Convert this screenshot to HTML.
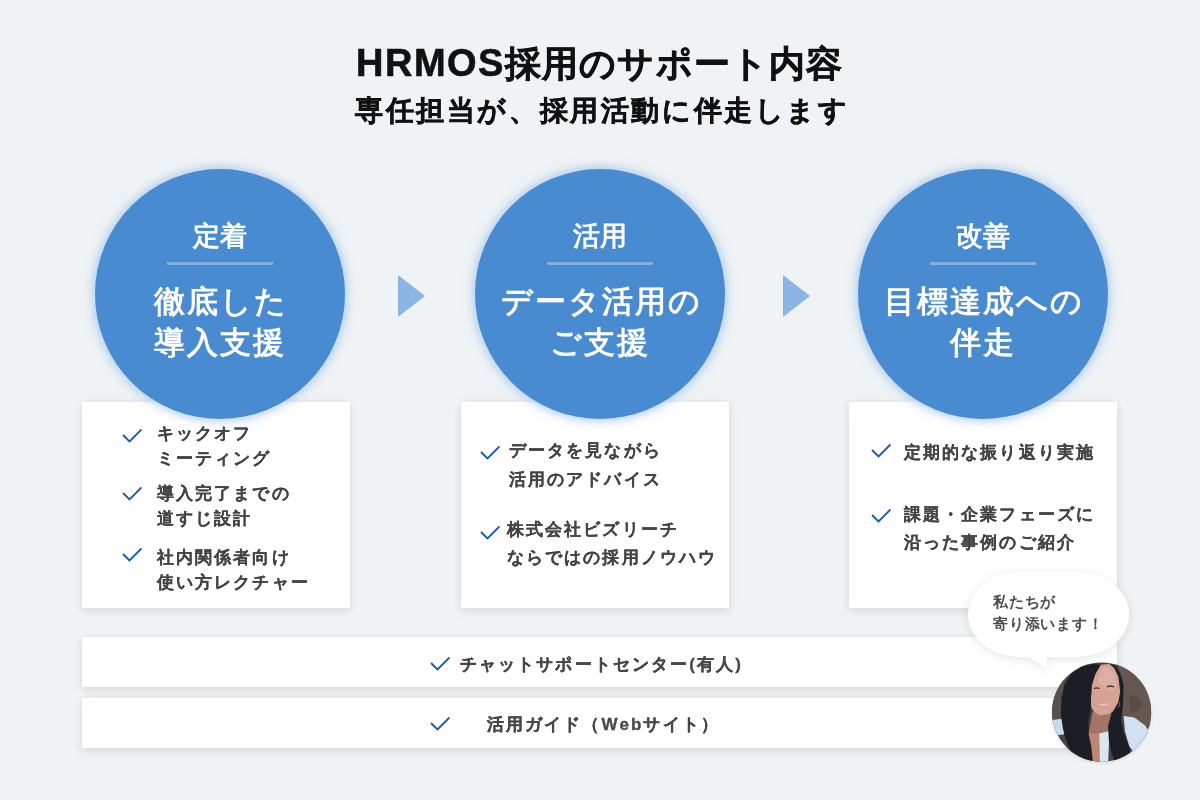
<!DOCTYPE html>
<html lang="ja">
<head>
<meta charset="utf-8">
<style>
*{margin:0;padding:0;box-sizing:border-box}
html,body{width:1200px;height:800px;overflow:hidden}
body{background:#F0F3F5;font-family:"Liberation Sans",sans-serif;position:relative;color:#4d4d4d}
.abs{position:absolute}
.t{position:absolute;white-space:nowrap;line-height:1;will-change:transform}
.title{left:356px;font-weight:bold;color:#111;font-size:36px;top:44px;-webkit-text-stroke:0.6px #111}
.title .en{font-size:38px;letter-spacing:1.5px}
.title .ja{letter-spacing:1.15px}
.sub{left:355px;font-weight:bold;color:#111;font-size:28px;top:97px;letter-spacing:2.6px;-webkit-text-stroke:0.5px #111}
.card{position:absolute;top:402px;width:268px;height:206px;background:#fff;box-shadow:0 1px 7px 1px rgba(0,0,0,0.06),0 5px 12px rgba(0,0,0,0.05)}
.bar{position:absolute;left:82px;width:1035px;height:50px;background:#fff;box-shadow:0 1px 7px 1px rgba(0,0,0,0.06),0 5px 12px rgba(0,0,0,0.05)}
.circle{position:absolute;top:169px;width:250px;height:250px;border-radius:50%;background:#488BD1;box-shadow:0 0 6px 3px rgba(150,190,235,0.45),0 0 12px 4px rgba(170,200,235,0.3);color:#fff;z-index:5}
.circle .lab{will-change:transform;position:absolute;left:0;width:250px;text-align:center;font-size:27px;top:54px;line-height:1;font-weight:bold;letter-spacing:0.5px;text-indent:0.5px}
.circle .div{position:absolute;left:72px;width:106px;height:3px;top:93px;background:rgba(255,255,255,0.3)}
.circle .main{will-change:transform;position:absolute;left:0;width:250px;text-align:center;font-size:31px;top:112px;line-height:41px;letter-spacing:2px;text-indent:2px;font-weight:bold}
.tri{position:absolute;top:274.5px;width:0;height:0;border-top:21.5px solid transparent;border-bottom:21.5px solid transparent;border-left:27px solid #8CB5E5}
.item{will-change:transform;position:absolute;font-size:17px;letter-spacing:2.1px;line-height:25px;color:#444;white-space:nowrap;font-weight:bold;-webkit-text-stroke:0.1px #444}
.chk{position:absolute;width:20px;height:15px}
.btxt{will-change:transform;position:absolute;font-size:17px;letter-spacing:2.1px;line-height:1;color:#484848;white-space:nowrap;font-weight:bold;-webkit-text-stroke:0.3px #484848}
</style>
</head>
<body>
<div class="t title"><span class="en">HRMOS</span><span class="ja">採用のサポート内容</span></div>
<div class="t sub">専任担当が、採用活動に伴走します</div>

<div class="card" style="left:82px"></div>
<div class="card" style="left:461px"></div>
<div class="card" style="left:849px"></div>

<div class="circle" style="left:95px"><div class="lab">定着</div><div class="div"></div><div class="main">徹底した<br>導入支援</div></div>
<div class="circle" style="left:475px"><div class="lab">活用</div><div class="div"></div><div class="main">データ活用の<br>ご支援</div></div>
<div class="circle" style="left:858px"><div class="lab">改善</div><div class="div"></div><div class="main">目標達成への<br>伴走</div></div>

<div class="tri" style="left:398px"></div>
<div class="tri" style="left:783px"></div>

<!-- card 1 items -->
<svg class="chk" style="left:122px;top:428px" viewBox="0 0 20 15"><polyline points="1,7 7.5,13.5 19.5,1.5" fill="none" stroke="#175AAE" stroke-width="1.8"/></svg>
<div class="item" style="left:157px;top:421px">キックオフ<br>ミーティング</div>
<svg class="chk" style="left:122px;top:486px" viewBox="0 0 20 15"><polyline points="1,7 7.5,13.5 19.5,1.5" fill="none" stroke="#175AAE" stroke-width="1.8"/></svg>
<div class="item" style="left:157px;top:481px">導入完了までの<br>道すじ設計</div>
<svg class="chk" style="left:122px;top:547px" viewBox="0 0 20 15"><polyline points="1,7 7.5,13.5 19.5,1.5" fill="none" stroke="#175AAE" stroke-width="1.8"/></svg>
<div class="item" style="left:157px;top:545px">社内関係者向け<br>使い方レクチャー</div>

<!-- card 2 items -->
<svg class="chk" style="left:480px;top:445px" viewBox="0 0 20 15"><polyline points="1,7 7.5,13.5 19.5,1.5" fill="none" stroke="#175AAE" stroke-width="1.8"/></svg>
<div class="item" style="left:509px;top:436px;line-height:29px">データを見ながら<br>活用のアドバイス</div>
<svg class="chk" style="left:480px;top:525px" viewBox="0 0 20 15"><polyline points="1,7 7.5,13.5 19.5,1.5" fill="none" stroke="#175AAE" stroke-width="1.8"/></svg>
<div class="item" style="left:507px;top:516px;line-height:28px">株式会社ビズリーチ<br>ならではの採用ノウハウ</div>

<!-- card 3 items -->
<svg class="chk" style="left:871px;top:443px" viewBox="0 0 20 15"><polyline points="1,7 7.5,13.5 19.5,1.5" fill="none" stroke="#175AAE" stroke-width="1.8"/></svg>
<div class="item" style="left:904px;top:440px">定期的な振り返り実施</div>
<svg class="chk" style="left:871px;top:508px" viewBox="0 0 20 15"><polyline points="1,7 7.5,13.5 19.5,1.5" fill="none" stroke="#175AAE" stroke-width="1.8"/></svg>
<div class="item" style="left:904px;top:501px;line-height:28px">課題・企業フェーズに<br>沿った事例のご紹介</div>

<div class="bar" style="top:637px"></div>
<div class="bar" style="top:698px"></div>
<svg class="chk" style="left:430px;top:656px" viewBox="0 0 20 15"><polyline points="1,7 7.5,13.5 19.5,1.5" fill="none" stroke="#175AAE" stroke-width="1.8"/></svg>
<div class="btxt" style="left:460px;top:656px">チャットサポートセンター(有人)</div>
<svg class="chk" style="left:430px;top:716px" viewBox="0 0 20 15"><polyline points="1,7 7.5,13.5 19.5,1.5" fill="none" stroke="#175AAE" stroke-width="1.8"/></svg>
<div class="btxt" style="left:487px;top:716px">活用ガイド（Webサイト）</div>


<svg class="abs" style="left:958px;top:562px;z-index:6;filter:drop-shadow(0 2px 5px rgba(0,0,0,0.10))" width="181" height="115" viewBox="0 0 181 115"><rect x="10" y="10" width="161" height="85" rx="52" ry="43" fill="#fff"/><path d="M58,88 L88,88 L89,106 Z" fill="#fff"/></svg>
<div class="abs" style="will-change:transform;left:993px;top:591px;font-size:15px;line-height:22px;letter-spacing:0.8px;color:#4d4d4d;font-weight:bold;white-space:nowrap;z-index:8">私たちが<br>寄り添います！</div>
<svg class="abs" style="left:1048px;top:658px;z-index:9" width="108" height="108" viewBox="0 0 800 800">
<defs><clipPath id="cc"><circle cx="397" cy="401" r="367"/></clipPath>
<filter id="sh" x="-10%" y="-10%" width="120%" height="120%"><feGaussianBlur stdDeviation="12"/></filter></defs>
<circle cx="397" cy="410" r="370" fill="rgba(0,0,0,0.10)" filter="url(#sh)"/>
<g clip-path="url(#cc)">
<rect width="800" height="800" fill="#4a4440"/>
<path d="M20,120 L120,110 L110,460 L20,470 Z" fill="#57504b"/>
<path d="M520,40 L800,40 L800,520 L560,470 L540,250 Z" fill="#665850"/>
<path d="M600,280 Q660,260 700,330 Q680,420 610,400 Z" fill="#5a4d47"/>
<path d="M35,460 L115,448 L120,565 L45,575 Z" fill="#c7daee"/>
<path d="M560,430 L640,440 L720,500 L760,560 L750,700 L650,720 L600,650 L570,540 Z" fill="#d0e1f3"/>
<path d="M330,400 L470,410 L440,570 L300,570 Z" fill="#a27566"/>
<path d="M250,560 L450,555 L440,800 L290,800 Z" fill="#bd8777"/>
<path d="M380,560 L455,540 L445,800 L385,800 Z" fill="#d9e5ef"/>
<path d="M390,50 L455,45 L505,85 L535,160 L540,250 L530,320 L500,385 L450,415 L385,425 L340,400 L320,360 L318,290 L325,200 L350,120 Z" fill="#d6a295"/>
<path d="M400,70 L460,70 L500,130 L510,220 L470,240 L410,220 L370,180 Z" fill="#dcafa4"/>
<path d="M340,228 Q360,214 380,228" fill="none" stroke="#4a3430" stroke-width="10"/>
<path d="M435,215 Q462,200 490,215" fill="none" stroke="#4a3430" stroke-width="10"/>
<path d="M360,335 Q410,372 465,330 Q410,350 360,335 Z" fill="#e6c3b8"/>
<path d="M330,45 L250,60 L170,120 L120,200 L100,300 L95,420 L110,520 L130,600 L170,700 L220,790 L335,790 L320,650 L300,560 L300,470 L315,400 L318,300 L325,200 L350,120 L390,50 Z" fill="#1b1f25"/>
<path d="M455,45 L500,60 L535,110 L560,200 L555,350 L540,450 L560,550 L600,650 L625,790 L500,790 L470,700 L450,600 L445,500 L470,415 L520,330 L535,250 L522,140 L490,72 Z" fill="#1b1f25"/>
<path d="M520,320 Q545,345 515,370" fill="none" stroke="#8a7a70" stroke-width="6"/>
</g>
</svg>
</body>
</html>
